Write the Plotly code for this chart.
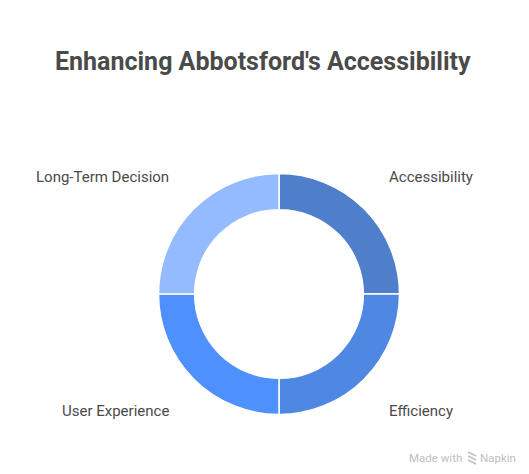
import plotly.graph_objects as go

W, H = 529, 474

labels = ["Accessibility", "Efficiency", "User Experience", "Long-Term Decision"]
values = [25, 25, 25, 25]
colors = ["#4f7fcb", "#4f88e3", "#4d90fe", "#94bbfe"]
title = "Enhancing Abbotsford's Accessibility"

TEXT = "#4a4a4a"
MARK = "#c0c0c0"

fig = go.Figure()
fig.add_trace(go.Pie(labels=labels, values=values,
                     hole=0.7, sort=False, direction="clockwise", rotation=0,
                     marker=dict(colors=colors, line=dict(color="white", width=1.5)),
                     textinfo="none", hoverinfo="label", showlegend=False,
                     domain=dict(x=[158.5/W, 399.5/W], y=[1-414.5/H, 1-173.5/H])))

def px_note(text, x, y, anchor, size, color=TEXT, bold=False):
    fig.add_annotation(text="<b>"+text+"</b>" if bold else text,
                       x=x/W, y=1-y/H, xref="paper", yref="paper",
                       xanchor=anchor, yanchor="middle", showarrow=False,
                       font=dict(family="Roboto", size=size, color=color))

px_note(title, 263, 61.5, "center", 25, bold=True)
px_note(labels[0], 387, 177, "left", 15)
px_note(labels[1], 387, 411, "left", 15)
px_note(labels[2], 171, 411, "right", 15)
px_note(labels[3], 171, 177, "right", 15)

# watermark
px_note("Made with", 464, 458, "right", 11.5, color=MARK)
px_note("Napkin", 478, 458, "left", 11.5, color=MARK)
for y0 in [452, 456, 460]:
    fig.add_shape(type="line", xref="paper", yref="paper",
                  x0=468/W, x1=476/W, y0=1-y0/H, y1=1-(y0+4)/H,
                  line=dict(color=MARK, width=1.5))

fig.update_layout(width=W, height=H, margin=dict(l=0, r=0, t=0, b=0),
                  paper_bgcolor="white", plot_bgcolor="white")
fig.write_html("out.html", post_script="document.body.style.margin='0';",
               config=dict(displayModeBar=False))
